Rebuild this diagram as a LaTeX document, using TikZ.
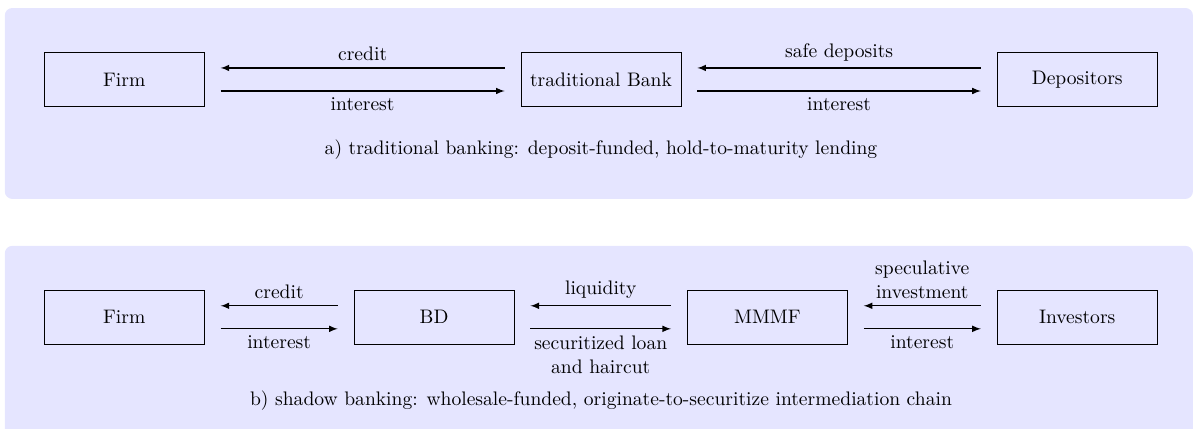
\documentclass[tikz,border=0pt]{standalone}
\usetikzlibrary{positioning}
\begin{document}
\begin{tikzpicture}[
    every node/.style={font=\fontsize{10.45pt}{12.8pt}\selectfont},
    box/.style={draw, minimum width=3cm, minimum height=1cm},
    flow/.style={-latex, semithick},
    panel/.style={fill=blue!10, rounded corners=4pt}]
                \useasboundingbox (0,0) rectangle (22.39,-8.04);
                \fill[panel] (0.09,-0.15) rectangle (22.37,-3.73);
                \fill[panel] (0.09,-4.61) rectangle (22.37,-8.19);
                % a) traditional banking
                \node[box] (firmA) at (2.33,-1.49) {Firm};
                \node[box] (bank) at (11.27,-1.49) {traditional Bank};
                \node[box] (depositors) at (20.20,-1.49) {Depositors};
                \draw[flow] ([xshift=-0.3cm,yshift=0.216cm]bank.west) -- node[above] {credit} ([xshift=0.3cm,yshift=0.216cm]firmA.east);
                \draw[flow] ([xshift=0.3cm,yshift=-0.216cm]firmA.east) -- node[below] {interest} ([xshift=-0.3cm,yshift=-0.216cm]bank.west);
                \draw[flow] ([xshift=-0.3cm,yshift=0.216cm]depositors.west) -- node[above] {safe deposits} ([xshift=0.3cm,yshift=0.216cm]bank.east);
                \draw[flow] ([xshift=0.3cm,yshift=-0.216cm]bank.east) -- node[below] {interest} ([xshift=-0.3cm,yshift=-0.216cm]depositors.west);
                \node (capA) at (11.27,-2.81) {a) traditional banking: deposit-funded, hold-to-maturity lending};
                % b) shadow banking
                \node[box] (firmB) at (2.33,-5.95) {Firm};
                \node[box] (bd) at (8.14,-5.95) {BD};
                \node[box] (mmmf) at (14.39,-5.95) {MMMF};
                \node[box] (investors) at (20.20,-5.95) {Investors};
                \draw[flow] ([xshift=-0.3cm,yshift=0.216cm]bd.west) -- node[above] {credit} ([xshift=0.3cm,yshift=0.216cm]firmB.east);
                \draw[flow] ([xshift=0.3cm,yshift=-0.216cm]firmB.east) -- node[below] {interest} ([xshift=-0.3cm,yshift=-0.216cm]bd.west);
                \draw[flow] ([xshift=-0.3cm,yshift=0.216cm]mmmf.west) -- node[above] {liquidity} ([xshift=0.3cm,yshift=0.216cm]bd.east);
                \draw[flow] ([xshift=0.3cm,yshift=-0.216cm]bd.east) -- node[below, align=center] {securitized loan\\and haircut} ([xshift=-0.3cm,yshift=-0.216cm]mmmf.west);
                \draw[flow] ([xshift=-0.3cm,yshift=0.216cm]investors.west) -- node[above, align=center] {speculative\\investment} ([xshift=0.3cm,yshift=0.216cm]mmmf.east);
                \draw[flow] ([xshift=0.3cm,yshift=-0.216cm]mmmf.east) -- node[below] {interest} ([xshift=-0.3cm,yshift=-0.216cm]investors.west);
                \node (capB) at (11.27,-7.52) {b) shadow banking: wholesale-funded, originate-to-securitize intermediation chain};
\end{tikzpicture}
\end{document}
